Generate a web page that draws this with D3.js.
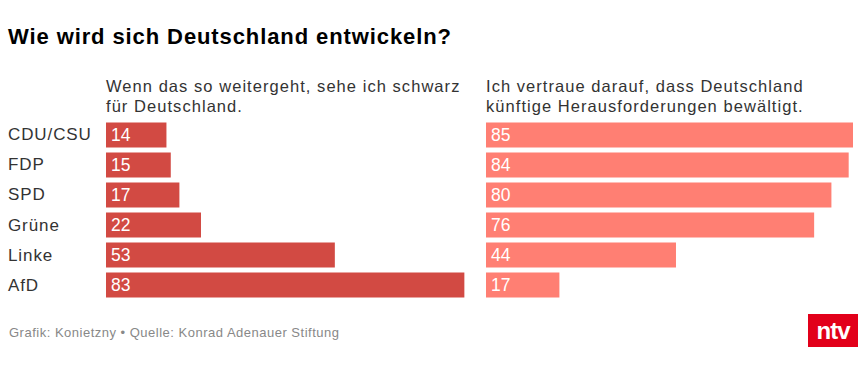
<!DOCTYPE html>
<html><head><meta charset="utf-8">
<script src="https://cdn.jsdelivr.net/npm/d3@7"></script>
<style>body{margin:0;background:#fff;font-family:"Liberation Sans",Arial,sans-serif;}</style>
</head><body><svg id="c" width="866" height="375"></svg>
<script>
const categories = ["CDU/CSU","FDP","SPD","Grüne","Linke","AfD"];
const schwarz = [14,15,17,22,53,83];
const vertrauen = [85,84,80,76,44,17];
const headers = [["Wenn das so weitergeht, sehe ich schwarz","für Deutschland."],["Ich vertraue darauf, dass Deutschland","künftige Herausforderungen bewältigt."]];

const svg = d3.select("#c");
svg.append("text").attr("x",8).attr("y",44).attr("font-size",22).attr("font-weight","bold")
  .attr("letter-spacing",0.9).attr("fill","#000").text("Wie wird sich Deutschland entwickeln?");

const y = d3.scaleBand().domain(categories).range([120,300]).paddingInner(0.1667).paddingOuter(0.0833);
const x = d3.scaleLinear().domain([0,85]).range([0,367]);
const panels = [{x0:106,data:schwarz,color:"#d24a43",h:headers[0]},{x0:486,data:vertrauen,color:"#ff7f73",h:headers[1]}];

svg.selectAll("text.cat").data(categories).join("text").attr("class","cat")
  .attr("x",8).attr("y",d=>y(d)+y.bandwidth()/2+5.5).attr("font-size",17).attr("letter-spacing",0.9)
  .attr("fill","#333").text(d=>d);

panels.forEach(p=>{
  const g = svg.append("g").attr("transform",`translate(${p.x0},0)`);
  g.selectAll("text.h").data(p.h).join("text").attr("class","h").attr("x",0).attr("y",(d,i)=>92+i*19.5)
    .attr("font-size",16.5).attr("letter-spacing",1.05).attr("fill","#333").text(d=>d);
  g.selectAll("rect").data(p.data).join("rect").attr("x",0).attr("y",(d,i)=>y(categories[i]))
    .attr("width",d=>x(d)).attr("height",y.bandwidth()).attr("fill",p.color);
  g.selectAll("text.v").data(p.data).join("text").attr("class","v").attr("x",5)
    .attr("y",(d,i)=>y(categories[i])+y.bandwidth()/2+5.8).attr("font-size",17.5).attr("fill","#fff").text(d=>d);
});

svg.append("text").attr("x",9).attr("y",337).attr("font-size",13).attr("letter-spacing",0.5).attr("fill","#888")
  .text("Grafik: Konietzny • Quelle: Konrad Adenauer Stiftung");
svg.append("rect").attr("x",808).attr("y",314).attr("width",50).attr("height",33).attr("fill","#e2001a");
svg.append("text").attr("x",833).attr("y",339).attr("text-anchor","middle").attr("font-size",24).attr("font-weight","bold")
  .attr("fill","#fff").attr("letter-spacing",-1).text("ntv");
</script></body></html>
